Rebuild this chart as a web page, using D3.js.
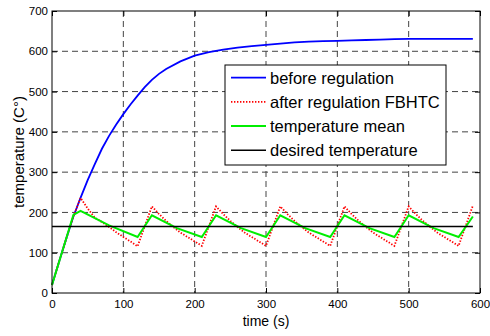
<!DOCTYPE html>
<html>
<head>
<meta charset="utf-8">
<script src="https://cdn.jsdelivr.net/npm/d3@7"></script>
<style>
  body { margin: 0; background: #fff; }
  text { font-family: "Liberation Sans", Arial, sans-serif; fill: #000; }
</style>
</head>
<body>
<div id="chart"></div>
<script>
// --- DATA ---
const xTicks = [0, 100, 200, 300, 400, 500, 600];
const yTicks = [0, 100, 200, 300, 400, 500, 600, 700];

const beforeTime = [0, 10, 20, 30, 40, 50, 60, 70, 80, 90, 100, 110, 120, 130, 140, 150, 160, 180, 200, 220, 240, 260, 280, 300, 320, 340, 360, 380, 400, 420, 440, 460, 480, 500, 540, 590];
const beforeTemp = [20, 78, 135, 190, 236, 280, 320, 358, 390, 418, 444, 468, 490, 511, 529, 544, 556, 575, 589, 598, 604, 609, 613, 616, 619, 622, 624, 625, 626, 627, 628, 629, 630, 631, 631, 631];

const afterTime = [0, 10, 20, 30, 40, 50, 60, 70, 80, 90, 100, 110, 120,
  140, 150, 160, 170, 180, 190, 200, 210,
  230, 240, 250, 260, 270, 280, 290, 300,
  320, 330, 340, 350, 360, 370, 380, 390,
  410, 420, 430, 440, 450, 460, 470, 480,
  500, 510, 520, 530, 540, 550, 560, 570, 590];
const afterTemp = [20, 78, 135, 190, 236, 210, 187, 176, 164, 151, 139, 128, 116,
  215, 196, 179, 164, 150, 139, 128, 117,
  215, 196, 179, 164, 150, 139, 128, 117,
  215, 196, 179, 164, 150, 139, 128, 117,
  215, 196, 179, 164, 150, 139, 128, 117,
  215, 196, 179, 164, 150, 139, 128, 117, 217];

const meanTime = [0, 30, 40, 80, 120, 140, 175, 210, 230, 265, 300, 320, 355, 390, 410, 445, 480, 500, 535, 570, 590];
const meanTemp = [20, 194, 204, 168, 139, 193, 161, 139, 193, 161, 139, 193, 161, 139, 193, 161, 139, 193, 161, 139, 190];

const desiredTime = [0, 590];
const desiredTemp = [165, 165];

const series = [
  { name: "before regulation", t: beforeTime, v: beforeTemp, color: "#0000ff", width: 1.8, dash: null },
  { name: "after regulation FBHTC", t: afterTime, v: afterTemp, color: "#ff0000", width: 1.8, dash: "1.4,1.6" },
  { name: "temperature mean", t: meanTime, v: meanTemp, color: "#00ee00", width: 2, dash: null },
  { name: "desired temperature", t: desiredTime, v: desiredTemp, color: "#000000", width: 1.6, dash: null }
];

// --- LAYOUT ---
const W = 490, H = 336;
const margin = { left: 52, top: 11, right: 10, bottom: 43 };
const pw = W - margin.left - margin.right;
const ph = H - margin.top - margin.bottom;

const svg = d3.select("#chart").append("svg")
  .attr("width", W).attr("height", H);

const g = svg.append("g").attr("transform", `translate(${margin.left},${margin.top})`);

const x = d3.scaleLinear().domain([0, 600]).range([0, pw]);
const y = d3.scaleLinear().domain([0, 700]).range([ph, 0]);

// grid
g.append("g").selectAll("line").data(xTicks.slice(1, -1)).join("line")
  .attr("x1", d => x(d)).attr("x2", d => x(d))
  .attr("y1", 0).attr("y2", ph)
  .attr("stroke", "#444").attr("stroke-width", 1).attr("stroke-dasharray", "6,4");
g.append("g").selectAll("line").data(yTicks.slice(1, -1)).join("line")
  .attr("y1", d => y(d)).attr("y2", d => y(d))
  .attr("x1", 0).attr("x2", pw)
  .attr("stroke", "#444").attr("stroke-width", 1).attr("stroke-dasharray", "6,4");

// axes (ticks inward, on all four sides)
const tickLen = 5;
g.append("g").attr("transform", `translate(0,${ph})`)
  .call(d3.axisBottom(x).tickValues(xTicks).tickSize(-tickLen).tickPadding(4))
  .selectAll(".tick text").attr("dy", null).attr("y", 15);
g.append("g")
  .call(d3.axisLeft(y).tickValues(yTicks).tickSize(-tickLen).tickPadding(4));
g.append("g")
  .call(d3.axisTop(x).tickValues(xTicks).tickSize(-tickLen).tickFormat(""));
g.append("g").attr("transform", `translate(${pw},0)`)
  .call(d3.axisRight(y).tickValues(yTicks).tickSize(-tickLen).tickFormat(""));

g.selectAll(".domain").remove();
g.selectAll(".tick line").attr("stroke", "#000");
g.selectAll(".tick text").attr("font-size", 11.5).attr("font-family", "Liberation Sans, Arial, sans-serif").attr("fill", "#000");

// lines
const line = d3.line().x(d => x(d[0])).y(d => y(d[1]));
series.forEach(s => {
  g.append("path")
    .datum(s.t.map((t, i) => [t, s.v[i]]))
    .attr("d", line)
    .attr("fill", "none")
    .attr("stroke", s.color)
    .attr("stroke-width", s.width)
    .attr("stroke-dasharray", s.dash);
});

// box
g.append("rect").attr("x", 0).attr("y", 0).attr("width", pw).attr("height", ph)
  .attr("fill", "none").attr("stroke", "#000").attr("stroke-width", 1);

// axis labels
svg.append("text")
  .attr("x", margin.left + pw / 2).attr("y", 326)
  .attr("text-anchor", "middle").attr("font-size", 14)
  .text("time (s)");
svg.append("text")
  .attr("transform", `translate(24,${margin.top + ph / 2}) rotate(-90)`)
  .attr("text-anchor", "middle").attr("font-size", 15)
  .text("temperature  (C°)");

// legend
const legend = svg.append("g").attr("transform", "translate(225,65)");
legend.append("rect").attr("width", 221).attr("height", 100)
  .attr("fill", "#fff").attr("stroke", "#000").attr("stroke-width", 1);
series.forEach((s, i) => {
  const ly = 12.7 + i * 24.2;
  legend.append("line")
    .attr("x1", 6).attr("x2", 41).attr("y1", ly).attr("y2", ly)
    .attr("stroke", s.color).attr("stroke-width", s.width)
    .attr("stroke-dasharray", s.dash);
  legend.append("text")
    .attr("x", 45).attr("y", ly + 6)
    .attr("font-size", 16.5)
    .text(s.name);
});
</script>
</body>
</html>
